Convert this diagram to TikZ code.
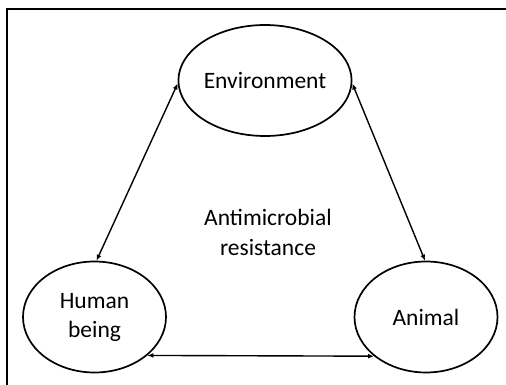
\documentclass[tikz,border=0pt]{standalone}
\usepackage{fontspec}
\setmainfont{Carlito}
\usetikzlibrary{arrows.meta,positioning,shapes.geometric}

\begin{document}
\begin{tikzpicture}[
    x=1pt, y=-1pt,
    node distance=10pt,
    blob/.style={
      draw,
      ellipse,
      line width=1.7pt,
      align=center,
      font=\fontsize{23.5}{29}\selectfont,
      minimum width=143pt,
      minimum height=111pt,
      inner sep=0pt
    },
    label/.style={align=center, font=\fontsize{23.5}{30}\selectfont},
    arrow/.style={{Latex[length=6pt,width=5pt]}-{Latex[length=6pt,width=5pt]}, line width=1.4pt}
  ]
    \useasboundingbox (0,0) rectangle (506,385);
    \draw[line width=1.8pt] (7,386) |- (507,9);

    \node[blob] (env) at (265,80.5) {Environment};
    \node[blob, on grid, below left=236.5pt and 170.5pt of env] (human)
      {Human\\being};
    \node[blob, on grid, right=331.5pt of human] (animal) {Animal};

    \node[label] (amr) at (268,232) {Antimicrobial\\resistance};

    \draw[arrow] (env.182) -- (human.88);
    \draw[arrow] (env.-2) -- (animal.91);
    \draw[arrow] (human.-36.6) -- (animal.-143.4);
  \end{tikzpicture}
\end{document}
